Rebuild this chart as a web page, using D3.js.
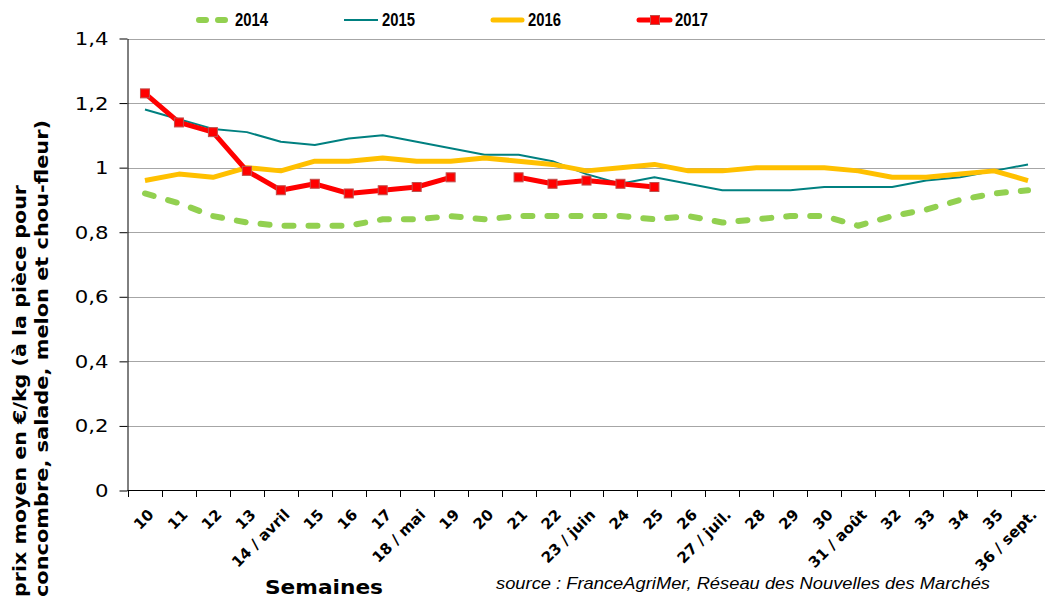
<!DOCTYPE html>
<html>
<head>
<meta charset="utf-8">
<script src="https://cdn.jsdelivr.net/npm/d3@7/dist/d3.min.js"></script>
<style>
  html, body { margin: 0; padding: 0; background: #fff; }
  svg { display: block; }
</style>
</head>
<body>
<svg id="chart" width="1045" height="598"></svg>
<script>
// ---- data ----
const weeks = ["10","11","12","13","14 / avril","15","16","17","18 / mai","19","20","21","22","23 / juin","24","25","26","27 / juil.","28","29","30","31 / août","32","33","34","35","36 / sept."];
const s2014 = [0.92,0.89,0.85,0.83,0.82,0.82,0.82,0.84,0.84,0.85,0.84,0.85,0.85,0.85,0.85,0.84,0.85,0.83,0.84,0.85,0.85,0.82,0.85,0.87,0.90,0.92,0.93];
const s2015 = [1.18,1.15,1.12,1.11,1.08,1.07,1.09,1.10,1.08,1.06,1.04,1.04,1.02,0.98,0.95,0.97,0.95,0.93,0.93,0.93,0.94,0.94,0.94,0.96,0.97,0.99,1.01];
const s2016 = [0.96,0.98,0.97,1.00,0.99,1.02,1.02,1.03,1.02,1.02,1.03,1.02,1.01,0.99,1.00,1.01,0.99,0.99,1.00,1.00,1.00,0.99,0.97,0.97,0.98,0.99,0.96];
const s2017 = [1.23,1.14,1.11,0.99,0.93,0.95,0.92,0.93,0.94,0.97,null,0.97,0.95,0.96,0.95,0.94,null,null,null,null,null,null,null,null,null,null,null];
const seriesNames = ["2014","2015","2016","2017"];
const yTicks = [0,0.2,0.4,0.6,0.8,1.0,1.2,1.4];
const yTickLabels = ["0","0,2","0,4","0,6","0,8","1","1,2","1,4"];

// ---- setup ----
const svg = d3.select("#chart");
const x = d3.scaleBand().domain(weeks).range([128, 1045]).padding(0);
const y = d3.scaleLinear().domain([0, 1.4]).range([490.5, 38.5]);
const cx = w => x(w) + x.bandwidth() / 2;

// gridlines
svg.append("g").selectAll("line").data(yTicks.filter(d => d > 0)).join("line")
  .attr("x1", 128).attr("x2", 1045)
  .attr("y1", d => Math.round(y(d)) + 0.5).attr("y2", d => Math.round(y(d)) + 0.5)
  .attr("stroke", "#a6a6a6").attr("stroke-width", 1);

// y axis
const yAxis = svg.append("g").attr("transform", "translate(127.5,0)")
  .call(d3.axisLeft(y).tickValues(yTicks).tickFormat((d, i) => yTickLabels[i]).tickSize(8).tickSizeOuter(0));
yAxis.select(".domain").attr("stroke", "#000");
yAxis.selectAll(".tick line").attr("stroke", "#000");
yAxis.selectAll(".tick text")
  .attr("font-family", "DejaVu Sans, Verdana, sans-serif")
  .attr("font-size", 17).attr("fill", "#000")
  .attr("x", -19 / 1.25).attr("dy", "0.35em")
  .attr("transform", "scale(1.25,1)");

// x axis line + boundary ticks
const xg = svg.append("g");
xg.append("line").attr("x1", 127.5).attr("x2", 1045).attr("y1", 490.5).attr("y2", 490.5).attr("stroke", "#000");
const bounds = weeks.map(w => x(w)).concat([x.range()[1] - 0.5]);
xg.selectAll("line.tk").data(bounds).join("line").attr("class", "tk")
  .attr("x1", d => Math.round(d) + 0.5).attr("x2", d => Math.round(d) + 0.5)
  .attr("y1", 490.5).attr("y2", 497).attr("stroke", "#000");
xg.selectAll("text").data(weeks).join("text")
  .attr("transform", d => `translate(${cx(d) + 6},512) rotate(-45)`)
  .attr("text-anchor", "end").attr("dy", "0.35em")
  .attr("font-family", "DejaVu Sans, Verdana, sans-serif").attr("font-weight", "bold")
  .attr("font-size", 15).attr("fill", "#000")
  .text(d => d);

// ---- lines ----
const line = d3.line().defined(d => d[1] != null).x(d => cx(d[0])).y(d => y(d[1]));
const pairs = arr => weeks.map((w, i) => [w, arr[i]]);

svg.append("path").datum(pairs(s2014)).attr("d", line)
  .attr("fill", "none").attr("stroke", "#92D050").attr("stroke-width", 6)
  .attr("stroke-dasharray", "9,15").attr("stroke-linecap", "round").attr("stroke-linejoin", "round");
svg.append("path").datum(pairs(s2015)).attr("d", line)
  .attr("fill", "none").attr("stroke", "#008080").attr("stroke-width", 2).attr("stroke-linejoin", "round");
svg.append("path").datum(pairs(s2016)).attr("d", line)
  .attr("fill", "none").attr("stroke", "#FFC000").attr("stroke-width", 5).attr("stroke-linejoin", "round");
svg.append("path").datum(pairs(s2017)).attr("d", line)
  .attr("fill", "none").attr("stroke", "#FF0000").attr("stroke-width", 5).attr("stroke-linejoin", "round");
svg.append("g").selectAll("rect").data(pairs(s2017).filter(d => d[1] != null)).join("rect")
  .attr("x", d => cx(d[0]) - 4.5).attr("y", d => y(d[1]) - 4.5)
  .attr("width", 9).attr("height", 9)
  .attr("fill", "#FF0000").attr("stroke", "#C0504D").attr("stroke-width", 1);

// ---- legend ----
const lg = svg.append("g");
const ly = 20;
lg.append("line").attr("x1", 199).attr("x2", 225).attr("y1", ly).attr("y2", ly)
  .attr("stroke", "#92D050").attr("stroke-width", 6).attr("stroke-linecap", "round").attr("stroke-dasharray", "7,12");
lg.append("line").attr("x1", 344).attr("x2", 378).attr("y1", ly).attr("y2", ly)
  .attr("stroke", "#008080").attr("stroke-width", 2);
lg.append("line").attr("x1", 493).attr("x2", 522).attr("y1", ly).attr("y2", ly)
  .attr("stroke", "#FFC000").attr("stroke-width", 5).attr("stroke-linecap", "round");
lg.append("line").attr("x1", 639).attr("x2", 670).attr("y1", ly).attr("y2", ly)
  .attr("stroke", "#FF0000").attr("stroke-width", 5).attr("stroke-linecap", "round");
lg.append("rect").attr("x", 650.5).attr("y", ly - 4.5).attr("width", 9).attr("height", 9)
  .attr("fill", "#FF0000").attr("stroke", "#C0504D");
const lx = [235, 382, 528, 675];
lg.selectAll("text").data(seriesNames).join("text")
  .attr("x", (d, i) => lx[i]).attr("y", 26)
  .attr("font-family", "Liberation Sans, Arial, sans-serif").attr("font-weight", "bold")
  .attr("font-size", 18).attr("fill", "#000")
  .attr("textLength", 33).attr("lengthAdjust", "spacingAndGlyphs")
  .text(d => d);

// ---- titles ----
const tf = "DejaVu Sans, Verdana, sans-serif";
svg.append("text").attr("transform", "translate(26,597) rotate(-90)")
  .attr("font-family", tf).attr("font-weight", "bold").attr("font-size", 18)
  .attr("textLength", 412).attr("lengthAdjust", "spacingAndGlyphs")
  .text("prix moyen en €/kg (à la pièce pour");
svg.append("text").attr("transform", "translate(48,597) rotate(-90)")
  .attr("font-family", tf).attr("font-weight", "bold").attr("font-size", 18)
  .attr("textLength", 477).attr("lengthAdjust", "spacingAndGlyphs")
  .text("concombre, salade, melon et chou-fleur)");
svg.append("text").attr("x", 324).attr("y", 594).attr("text-anchor", "middle")
  .attr("font-family", tf).attr("font-weight", "bold").attr("font-size", 20)
  .attr("textLength", 118).attr("lengthAdjust", "spacingAndGlyphs")
  .text("Semaines");
svg.append("text").attr("x", 496).attr("y", 589)
  .attr("font-family", "Liberation Sans, Arial, sans-serif").attr("font-style", "italic").attr("font-size", 17)
  .attr("textLength", 494).attr("lengthAdjust", "spacingAndGlyphs")
  .text("source : FranceAgriMer, Réseau des Nouvelles des Marchés");
</script>
</body>
</html>
